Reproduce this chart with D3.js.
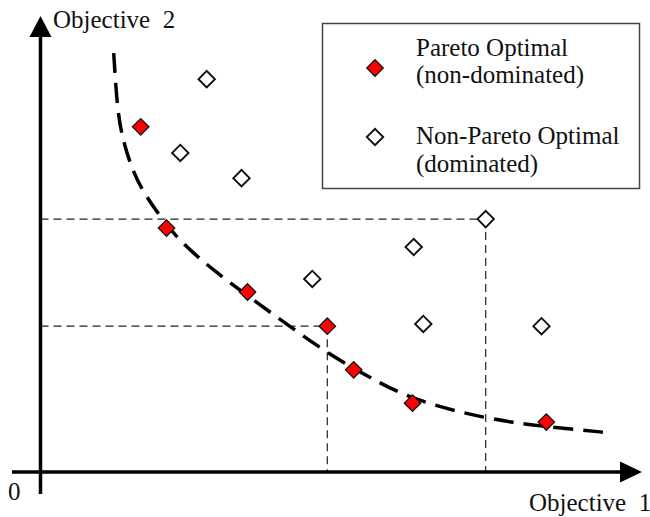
<!DOCTYPE html>
<html>
<head>
<meta charset="utf-8">
<script src="https://cdn.jsdelivr.net/npm/d3@7"></script>
<style>
  html, body { margin: 0; padding: 0; background: #fff; }
  svg { display: block; }
  text { font-family: "Liberation Serif", "Times New Roman", serif; fill: #111; white-space: pre; }
</style>
</head>
<body>
<svg id="chart" width="650" height="517"></svg>
<script>
// ---- data (objective values, arbitrary units 0..100) ----
const paretoX = [16.7, 21.0, 34.5, 47.8, 52.2, 62.0, 84.3];
const paretoY = [76.7, 54.2, 40.0, 32.4, 22.7, 15.3, 11.1];

const dominatedX = [27.7, 23.3, 33.5, 74.2, 62.2, 45.3, 63.8, 83.5];
const dominatedY = [87.3, 70.9, 65.3, 56.2, 50.0, 42.9, 32.9, 32.4];

// Pareto front curve
const frontX = [12.2, 12.8, 13.7, 15.3, 17.2, 20.0, 23.3, 29.2, 35.0, 41.7, 48.3, 55.0, 62.0, 74.2, 84.5, 95.0];
const frontY = [93.1, 80.4, 73.8, 67.1, 62.0, 56.7, 51.1, 44.4, 38.7, 32.2, 26.0, 20.9, 16.0, 11.8, 10.0, 8.7];

// guide lines drop from these points
const guideDominatedIndex = 3;
const guideParetoIndex = 3;

const axisLabels = ["Objective  1", "Objective  2"];
const originLabel = "0";
const legendLabels = [["Pareto Optimal", "(non-dominated)"], ["Non-Pareto Optimal", "(dominated)"]];

// ---- drawing ----
const svg = d3.select("#chart");
const x = d3.scaleLinear().domain([0, 100]).range([40.5, 640.5]);
const y = d3.scaleLinear().domain([0, 100]).range([472, 22]);

const FONT = 25;

// guide lines
const gx = dominatedX[guideDominatedIndex], gy = dominatedY[guideDominatedIndex];
const px = paretoX[guideParetoIndex], py = paretoY[guideParetoIndex];
const guides = [
  [[0, gy], [gx, gy]], [[gx, gy], [gx, 0]],
  [[0, py], [px, py]], [[px, py], [px, 0]]
];
svg.append("g").selectAll("line").data(guides).join("line")
  .attr("x1", d => x(d[0][0])).attr("y1", d => y(d[0][1]))
  .attr("x2", d => x(d[1][0])).attr("y2", d => y(d[1][1]))
  .attr("stroke", "#222").attr("stroke-width", 1.2)
  .attr("stroke-dasharray", "8,5");

// Pareto front
const front = frontX.map((v, i) => [v, frontY[i]]);
svg.append("path")
  .datum(front)
  .attr("d", d3.line().x(d => x(d[0])).y(d => y(d[1])).curve(d3.curveBasis))
  .attr("fill", "none").attr("stroke", "#000")
  .attr("stroke-width", 3.5)
  .attr("stroke-dasharray", "20,10");

// axes
const axes = svg.append("g");
axes.append("line")
  .attr("x1", x(0)).attr("y1", 494).attr("x2", x(0)).attr("y2", 34)
  .attr("stroke", "#000").attr("stroke-width", 3.5);
axes.append("path")
  .attr("d", `M${x(0)},16 L${x(0) - 11},37 L${x(0) + 11},37 Z`)
  .attr("fill", "#000");
axes.append("line")
  .attr("x1", 12).attr("y1", y(0)).attr("x2", 622).attr("y2", y(0))
  .attr("stroke", "#000").attr("stroke-width", 3.5);
axes.append("path")
  .attr("d", `M642,${y(0)} L620,${y(0) - 10.5} L620,${y(0) + 10.5} Z`)
  .attr("fill", "#000");

// axis labels
svg.append("text").attr("x", 529).attr("y", 511).attr("font-size", FONT).text(axisLabels[0]);
svg.append("text").attr("x", 53).attr("y", 28).attr("font-size", FONT).text(axisLabels[1]);
svg.append("text").attr("x", 8).attr("y", 500).attr("font-size", FONT).text(originLabel);

// markers
const diamond = d3.symbol().type(d3.symbolSquare).size(135);
function drawMarkers(xs, ys, fill, stroke, sw) {
  svg.append("g").selectAll("path").data(xs.map((v, i) => [v, ys[i]])).join("path")
    .attr("d", diamond)
    .attr("transform", d => `translate(${x(d[0])},${y(d[1])}) rotate(45)`)
    .attr("fill", fill).attr("stroke", stroke).attr("stroke-width", sw);
}
drawMarkers(dominatedX, dominatedY, "#fff", "#111", 1.9);
drawMarkers(paretoX, paretoY, "#ff0000", "#111", 1.3);

// legend
const lg = svg.append("g");
lg.append("rect").attr("x", 322.5).attr("y", 23.5).attr("width", 317).attr("height", 165)
  .attr("fill", "#fff").attr("stroke", "#444").attr("stroke-width", 1.5);
lg.append("path").attr("d", diamond).attr("transform", "translate(375,68) rotate(45)")
  .attr("fill", "#ff0000").attr("stroke", "#111").attr("stroke-width", 1.3);
lg.append("path").attr("d", diamond).attr("transform", "translate(375,137) rotate(45)")
  .attr("fill", "#fff").attr("stroke", "#111").attr("stroke-width", 1.9);
const legendBase = [[56, 83], [144, 172]];
legendLabels.forEach((lines, i) => {
  lines.forEach((t, j) => {
    lg.append("text").attr("x", 416).attr("y", legendBase[i][j]).attr("font-size", FONT).text(t);
  });
});
</script>
</body>
</html>
